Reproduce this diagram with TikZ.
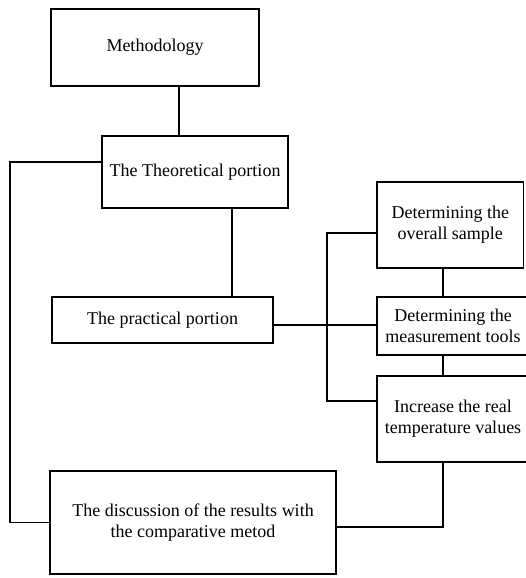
\documentclass[tikz,border=0pt]{standalone}
\usepackage{fontspec}
\setmainfont{Liberation Serif}
\begin{document}
\begin{tikzpicture}[x=1pt,y=-1pt,
  box/.style={draw, line width=1.1pt, align=center, inner sep=0pt, font=\fontsize{18}{21}\selectfont},
  conn/.style={line width=1.1pt}]
\useasboundingbox (0,0) rectangle (526,578);
\clip (0,0) rectangle (526,578);
\node[box, minimum width=208pt, minimum height=77pt] (meth) at (155,47.5) {Methodology};
\node[box, minimum width=186pt, minimum height=72pt] (theo) at (195,172) {The Theoretical portion};
\node[box, minimum width=221pt, minimum height=46pt] (prac) at (162.5,320) {The practical portion};
\node[box, minimum width=146.5pt, minimum height=86pt] (samp) at (450.25,225) {Determining the\\overall sample};
\node[box, minimum width=152pt, minimum height=58pt] (meas) at (453,326) {Determining the\\measurement tools};
\node[box, minimum width=152pt, minimum height=86pt] (incr) at (453,419) {Increase the real\\temperature values};
\node[box, minimum width=286pt, minimum height=103pt] (disc) at (193,522.5) {The discussion of the results with\\the comparative metod};
\coordinate (lc) at (10,0);
\coordinate (bus) at (327,0);
\coordinate (vx) at (443,0);
\coordinate (ma) at (179,0);
\coordinate (ta) at (232,0);
\draw[conn] (ma |- meth.south) -- (ma |- theo.north);
\draw[conn] (ta |- theo.south) -- (ta |- prac.north);
\draw[conn] ([yshift=10pt]theo.west) -- ([yshift=10pt]theo.west -| lc) |- (disc.west);
\draw[conn] ([yshift=-5pt]prac.east) -- ([yshift=-5pt]prac.east -| meas.west);
\draw[conn] ([yshift=-8pt]samp.west) -| ([yshift=18pt]incr.west -| bus) -- ([yshift=18pt]incr.west);
\draw[conn] (vx |- samp.south) -- (vx |- meas.north);
\draw[conn] (vx |- meas.south) -- (vx |- incr.north);
\draw[conn] (vx |- incr.south) |- ([yshift=-4.5pt]disc.east);
\end{tikzpicture}
\end{document}
